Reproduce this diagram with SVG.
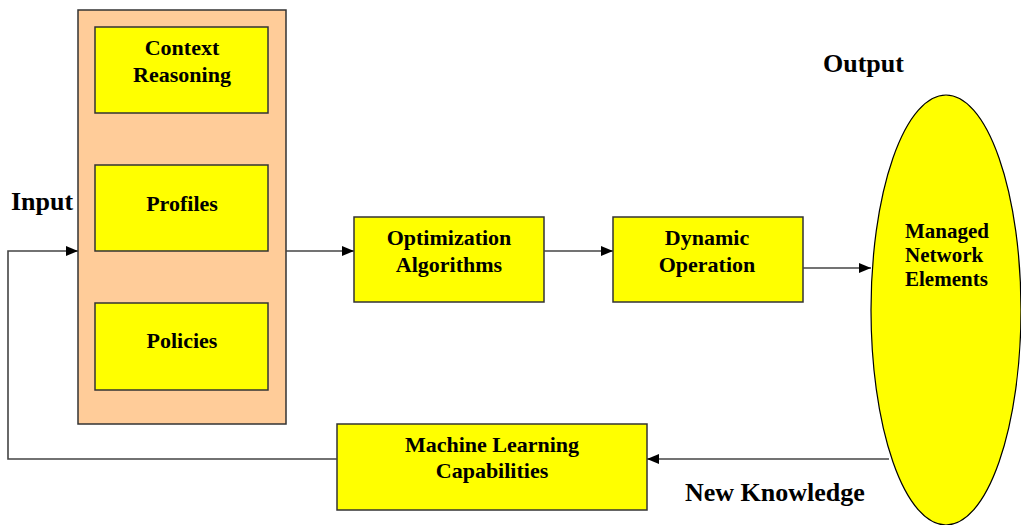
<svg xmlns="http://www.w3.org/2000/svg" width="1021" height="525" viewBox="0 0 1021 525">
  <style>
    .box { fill: #FFFF00; stroke: #333333; stroke-width: 1.5; }
    .outer { fill: #FFCC99; stroke: #333333; stroke-width: 1.5; }
    .lbl { font-family: "Liberation Serif", "Times New Roman", serif; font-weight: bold; font-size: 22px; fill: #000; text-anchor: middle; }
    .side { font-family: "Liberation Serif", "Times New Roman", serif; font-weight: bold; font-size: 26px; fill: #000; }
    .ell { font-family: "Liberation Serif", "Times New Roman", serif; font-weight: bold; font-size: 21px; fill: #000; }
    .wire { fill: none; stroke: #444444; stroke-width: 1.6; }
  </style>
  <defs>
    <marker id="arrow" viewBox="0 0 12 10" refX="12" refY="5" markerWidth="12" markerHeight="10" markerUnits="userSpaceOnUse" orient="auto">
      <path d="M0,0 L12,5 L0,10 z" fill="#000"/>
    </marker>
  </defs>

  <rect width="1021" height="525" fill="#FFFFFF"/>

  <!-- side labels -->
  <text class="side" x="11" y="210">Input</text>
  <text class="side" x="823" y="72">Output</text>
  <text class="side" x="685" y="501">New Knowledge</text>

  <!-- input stage: context, profiles, policies -->
  <g id="input-stage">
    <rect class="outer" x="78" y="10" width="208" height="414"/>
  </g>
  <g id="context-reasoning">
    <rect class="box" x="95" y="27" width="173" height="86"/>
    <text class="lbl" x="182" y="55">Context</text>
    <text class="lbl" x="182" y="82">Reasoning</text>
  </g>
  <g id="profiles">
    <rect class="box" x="95" y="165" width="173" height="86"/>
    <text class="lbl" x="182" y="211">Profiles</text>
  </g>
  <g id="policies">
    <rect class="box" x="95" y="303" width="173" height="87"/>
    <text class="lbl" x="182" y="348">Policies</text>
  </g>

  <g id="optimization">
    <rect class="box" x="354" y="217" width="190" height="85"/>
    <text class="lbl" x="449" y="245">Optimization</text>
    <text class="lbl" x="449" y="272">Algorithms</text>
  </g>

  <g id="dynamic-operation">
    <rect class="box" x="613" y="217" width="190" height="85"/>
    <text class="lbl" x="707" y="245">Dynamic</text>
    <text class="lbl" x="707" y="272">Operation</text>
  </g>

  <g id="managed-elements">
    <ellipse cx="946" cy="310" rx="75" ry="215" fill="#FFFF00" stroke="#000" stroke-width="1.2"/>
    <text class="ell" x="905" y="238">Managed</text>
    <text class="ell" x="905" y="262">Network</text>
    <text class="ell" x="905" y="286">Elements</text>
  </g>

  <g id="machine-learning">
    <rect class="box" x="337" y="424" width="310" height="86"/>
    <text class="lbl" x="492" y="452">Machine Learning</text>
    <text class="lbl" x="492" y="478">Capabilities</text>
  </g>

  <g id="connectors">
    <path class="wire" d="M337,459 H8 V251 H78" marker-end="url(#arrow)"/>
    <path class="wire" d="M286,251 H354" marker-end="url(#arrow)"/>
    <path class="wire" d="M544,251 H613" marker-end="url(#arrow)"/>
    <path class="wire" d="M803,268 H871" marker-end="url(#arrow)"/>
    <path class="wire" d="M889,459 H647" marker-end="url(#arrow)"/>
  </g>
</svg>
